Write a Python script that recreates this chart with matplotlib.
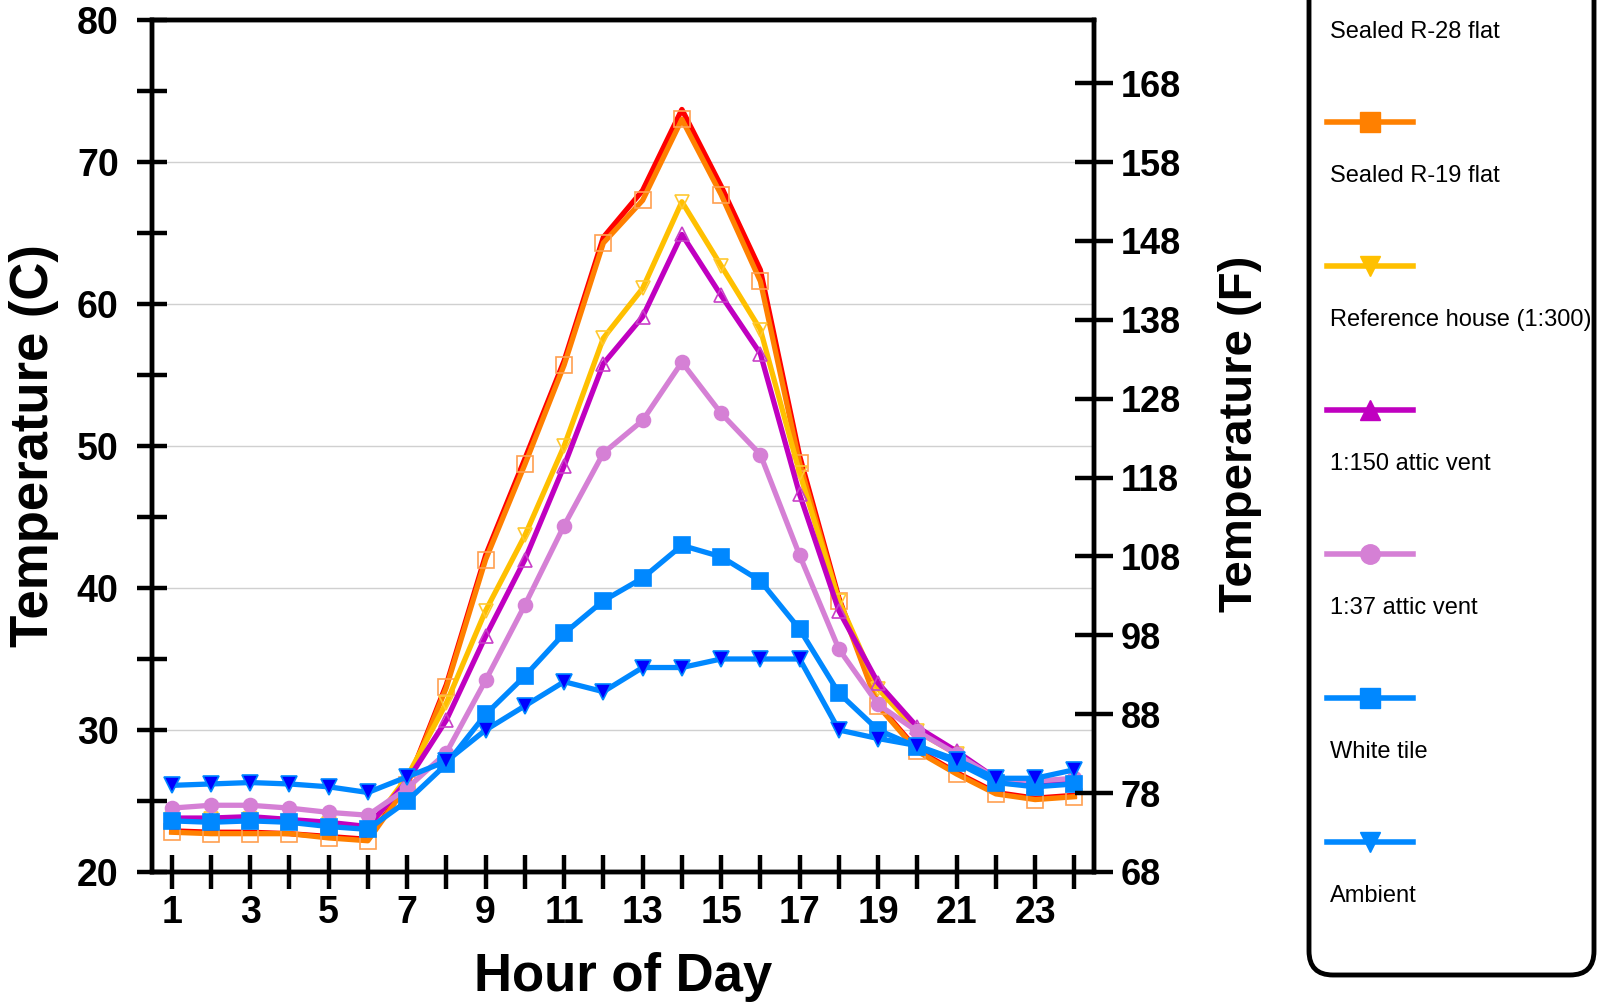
import matplotlib.pyplot as plt
from matplotlib.patches import FancyBboxPatch

plt.rcParams['font.family'] = ['Liberation Sans', 'DejaVu Sans']

# hourly attic temperatures (C)
hours = list(range(1, 25))
sealed_r28 = [22.9, 22.8, 22.8, 22.7, 22.5, 22.3, 26.2, 33.2, 42.3, 49.1, 56.0, 64.7,
              68.0, 73.7, 68.3, 62.4, 49.3, 39.3, 31.8, 28.6, 27.0, 25.6, 25.2, 25.4]
sealed_r19 = [22.8, 22.7, 22.7, 22.7, 22.4, 22.2, 26.1, 33.0, 42.0, 48.7, 55.7, 64.3,
              67.3, 73.0, 67.7, 61.6, 48.8, 39.1, 31.7, 28.5, 26.9, 25.5, 25.1, 25.3]
reference = [23.7, 23.7, 23.7, 23.6, 23.4, 23.0, 26.7, 31.9, 38.4, 43.7, 50.0, 57.6,
             61.1, 67.2, 62.7, 58.2, 48.1, 39.1, 32.9, 29.9, 28.3, 26.3, 26.1, 26.3]
vent_150 = [23.8, 23.8, 23.9, 23.7, 23.5, 23.2, 26.4, 30.7, 36.6, 42.0, 48.6, 55.8,
            59.1, 64.9, 60.6, 56.5, 46.6, 38.4, 33.3, 30.2, 28.5, 26.6, 26.3, 26.4]
vent_37 = [24.5, 24.7, 24.7, 24.5, 24.2, 24.0, 25.9, 28.4, 33.5, 38.8, 44.4, 49.5,
           51.8, 55.9, 52.3, 49.4, 42.3, 35.7, 31.8, 29.9, 28.3, 26.6, 26.4, 26.6]
white_tile = [23.6, 23.5, 23.6, 23.5, 23.2, 23.0, 25.0, 27.6, 31.1, 33.8, 36.8, 39.1,
              40.7, 43.0, 42.2, 40.5, 37.1, 32.6, 30.0, 28.8, 27.7, 26.3, 26.0, 26.2]
ambient = [26.1, 26.2, 26.3, 26.2, 26.0, 25.6, 26.7, 27.8, 30.0, 31.7, 33.4, 32.7,
           34.4, 34.4, 35.0, 35.0, 35.0, 30.0, 29.4, 28.9, 27.9, 26.6, 26.6, 27.2]

labels = ['Sealed R-28 flat', 'Sealed R-19 flat', 'Reference house (1:300)',
          '1:150 attic vent', '1:37 attic vent', 'White tile', 'Ambient']
series = [sealed_r28, sealed_r19, reference, vent_150, vent_37, white_tile, ambient]

# line color, marker, marker face, marker edge, marker size
styles = [
    ('#ff0000', None, 'none', '#ff0000', 0),
    ('#ff8000', 's', 'none', '#ffa050', 11),
    ('#ffc000', 'v', 'none', '#ffc830', 10),
    ('#c000c0', '^', 'none', '#c840c8', 10),
    ('#d580d5', 'o', '#d580d5', '#d580d5', 10),
    ('#0088ff', 's', '#0088ff', '#0088ff', 11),
    ('#0088ff', 'v', '#0000ff', '#0088ff', 11),
]

fig = plt.figure(figsize=(16.02, 10.02), dpi=100)
ax = fig.add_axes([152 / 1602, 1 - 872 / 1002, 942 / 1602, 852 / 1002])

for vals, (c, m, mfc, mec, ms) in zip(series, styles):
    ax.plot(hours, vals, color=c, lw=3.8, marker=m, mfc=mfc, mec=mec,
            ms=ms, mew=1.2, zorder=3)

ax.set_xlim(0.5, 24.5)
ax.set_ylim(20, 80)
ax.set_yticks(range(20, 81, 10))
ax.set_yticks(range(25, 80, 10), minor=True)
ax.set_xticks(range(1, 25, 2))
ax.set_xticks(range(2, 25, 2), minor=True)
ax.grid(axis='y', which='major', color='#d0d0d0', lw=1, zorder=0)

for s in ax.spines.values():
    s.set_linewidth(3.2)

ax.tick_params(axis='y', which='both', direction='inout', length=22, width=3.2,
               labelsize=27, pad=13)
ax.tick_params(axis='x', which='both', direction='inout', length=25, width=3.2,
               labelsize=27, pad=4)
for t in ax.get_xticklabels() + ax.get_yticklabels():
    t.set_fontweight('bold')

ax.set_xlabel('Hour of Day', fontsize=38, fontweight='bold')
ax.xaxis.set_label_coords(0.5, -0.094)
ax.set_ylabel('Temperature (C)', fontsize=38, fontweight='bold')
ax.yaxis.set_label_coords(-0.099, 0.5)

# Fahrenheit axis
ax2 = ax.twinx()
ax2.set_ylim(20 * 1.8 + 32, 80 * 1.8 + 32)
ax2.set_yticks(range(68, 169, 10))
for s in ax2.spines.values():
    s.set_linewidth(3.2)
ax2.tick_params(axis='y', direction='inout', length=28, width=3.2,
                labelsize=26, pad=5)
for t in ax2.get_yticklabels():
    t.set_fontweight('bold')
ax2.set_ylabel('Temperature (F)', fontsize=34, fontweight='bold')
ax2.yaxis.set_label_coords(1.132, 0.514)

# legend drawn by hand: labels sit under their line samples
leg = fig.add_axes([1307 / 1602, 1 - 977 / 1002, 289 / 1602, 1037 / 1002])
leg.set_xlim(0, 289)
leg.set_ylim(1037, 0)
leg.axis('off')
box = FancyBboxPatch((2, 2), 285, 1033, boxstyle='round,pad=0,rounding_size=24',
                     fc='white', ec='black', lw=3.5, clip_on=False)
leg.add_patch(box)
for i, (lab, (c, m, mfc, mec, ms)) in enumerate(zip(labels, styles)):
    yh = 38 + 144 * i
    leg.plot([20, 106], [yh, yh], color=c, lw=4, clip_on=False)
    if m:
        leg.plot([63], [yh], marker=m, color=c, ms=14, clip_on=False)
    leg.text(23, yh + 54, lab, fontsize=17, va='center', ha='left')

fig.savefig('out.png', dpi=100)
